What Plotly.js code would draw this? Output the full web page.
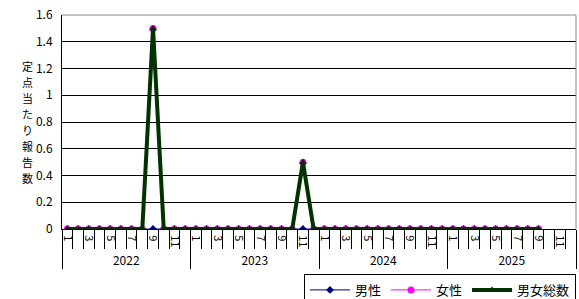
<!DOCTYPE html>
<html>
<head>
<meta charset="utf-8">
<script src="https://cdn.plot.ly/plotly-3.0.1.min.js"></script>
<style>
html,body{margin:0;padding:0;background:#fff;}
#chart{width:579px;height:299px;}
</style>
</head>
<body>
<div id="chart"></div>
<script>
// Categories
const years = ["2022", "2023", "2024", "2025"];
const months = ["1","2","3","4","5","6","7","8","9","10","11","12"];

// Series values (2022-01 .. 2025-09)
const male = [
  0,0,0,0,0,0,0,0,0,0,0,0,
  0,0,0,0,0,0,0,0,0,0,0,0,
  0,0,0,0,0,0,0,0,0,0,0,0,
  0,0,0,0,0,0,0,0,0
];
const female = [
  0,0,0,0,0,0,0,0,1.5,0,0,0,
  0,0,0,0,0,0,0,0,0,0,0.5,0,
  0,0,0,0,0,0,0,0,0,0,0,0,
  0,0,0,0,0,0,0,0,0
];
const total = [
  0,0,0,0,0,0,0,0,1.5,0,0,0,
  0,0,0,0,0,0,0,0,0,0,0.5,0,
  0,0,0,0,0,0,0,0,0,0,0,0,
  0,0,0,0,0,0,0,0,0
];

const seriesNames = ["男性", "女性", "男女総数"];
const yTitle = "定点当たり報告数";

// Build category positions
const nCat = years.length * months.length;
const xIdx = male.map((_, i) => i);
const boundaries = [];
for (let i = 0; i <= nCat; i++) boundaries.push(i - 0.5);
const yearBounds = [];
for (let y = 0; y <= years.length; y++) yearBounds.push(y * months.length - 0.5);
const monthTickVals = [], monthTickText = [];
for (let y = 0; y < years.length; y++) {
  months.forEach((m, k) => {
    if (k % 2 === 0) { monthTickVals.push(y * months.length + k); monthTickText.push(m); }
  });
}
const yearTickVals = years.map((_, y) => y * months.length + (months.length - 1) / 2);
const xr = [-0.5, nCat - 0.5];

const FONT = '"Noto Sans CJK JP", "Liberation Sans", sans-serif';

const traces = [
  {x: xIdx, y: male, name: seriesNames[0], type: 'scatter', mode: 'lines+markers',
   line: {color: '#000080', width: 1}, marker: {symbol: 'diamond', size: 6, color: '#000080'}},
  {x: xIdx, y: female, name: seriesNames[1], type: 'scatter', mode: 'lines+markers',
   line: {color: '#FF00FF', width: 1}, marker: {symbol: 'circle', size: 7, color: '#FF00FF'}},
  {x: xIdx, y: total, name: seriesNames[2], type: 'scatter', mode: 'lines+markers',
   line: {color: '#003300', width: 4}, marker: {symbol: 'triangle-up', size: 7, color: '#003300'}},
  {x: [], y: [], xaxis: 'x2', showlegend: false, hoverinfo: 'skip', type: 'scatter'},
  {x: [], y: [], xaxis: 'x3', showlegend: false, hoverinfo: 'skip', type: 'scatter'}
];

// vertical stacked title characters
const titleChars = yTitle.split('');
const pitch = 16, plotTop = 15, plotH = 214;
const titleMid = 122;
const titleAnns = titleChars.map((c, i) => ({
  text: c, xref: 'paper', yref: 'paper',
  x: -0.068,
  y: 1 - ((titleMid + (i - (titleChars.length - 1) / 2) * pitch) - plotTop) / plotH,
  xanchor: 'center', yanchor: 'middle', showarrow: false,
  borderpad: 0,
  font: {size: 11, family: FONT}
}));

const layout = {
  width: 579, height: 299,
  margin: {l: 62, r: 3, t: 15, b: 70, autoexpand: false},
  paper_bgcolor: '#fff', plot_bgcolor: '#fff',
  font: {family: FONT, size: 11, color: '#000'},
  showlegend: true,
  legend: {orientation: 'h', x: 1, xanchor: 'right', y: -0.21, yanchor: 'top',
           bordercolor: '#000', borderwidth: 1, font: {size: 13, family: FONT},
           itemwidth: 40, tracegroupgap: 0},
  xaxis: {range: xr, showline: true, linecolor: '#000', linewidth: 1,
          showgrid: false, zeroline: false, automargin: false,
          tickmode: 'array', tickvals: yearBounds, ticks: 'outside', ticklen: 39,
          tickcolor: '#000', tickwidth: 1, showticklabels: false,
          minor: {tickmode: 'array', tickvals: boundaries, ticks: 'outside', ticklen: 19,
                  tickcolor: '#000', tickwidth: 1, showgrid: false}},
  xaxis2: {range: xr, overlaying: 'x', anchor: 'y', side: 'bottom', showline: false,
           showgrid: false, zeroline: false, automargin: false, tickmode: 'array', tickvals: monthTickVals,
           ticktext: monthTickText, tickangle: 90, ticks: 'outside', ticklen: 3,
           tickcolor: 'rgba(0,0,0,0)', tickfont: {size: 11, family: FONT}},
  xaxis3: {range: xr, overlaying: 'x', anchor: 'y', side: 'bottom', showline: false,
           showgrid: false, zeroline: false, automargin: false, tickmode: 'array', tickvals: yearTickVals,
           ticktext: years, ticks: '', ticklabelstandoff: 23, tickfont: {size: 12, family: FONT}},
  yaxis: {range: [0, 1.6], dtick: 0.2, tick0: 0, showline: true, linecolor: '#000', linewidth: 1,
          showgrid: true, gridcolor: '#000', gridwidth: 1, zeroline: false, ticks: '', automargin: false,
          tickfont: {size: 12, family: FONT}, ticklabelstandoff: 6},
  shapes: [
    {type: 'line', xref: 'x domain', yref: 'y domain', x0: 0, x1: 1, y0: 1, y1: 1,
     line: {color: '#888', width: 1}},
    {type: 'line', xref: 'x domain', yref: 'y domain', x0: 1, x1: 1, y0: 0, y1: 1,
     line: {color: '#888', width: 1}}
  ],
  annotations: titleAnns
};

Plotly.newPlot('chart', traces, layout, {displayModeBar: false, staticPlot: true});
</script>
</body>
</html>
